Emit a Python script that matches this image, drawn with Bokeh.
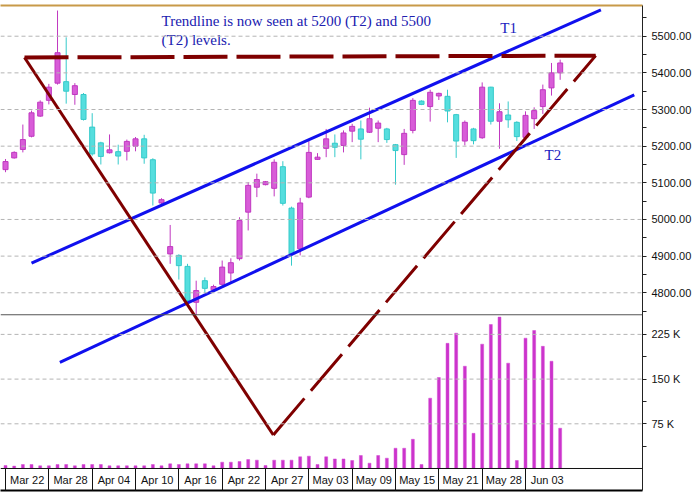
from bokeh.plotting import figure
from bokeh.models import Range1d, LinearAxis, FixedTicker, Span, Label, ColumnDataSource
from bokeh.core.properties import value
from bokeh.embed import file_html
from bokeh.resources import INLINE

# ---------------- data ----------------
date_labels = ["Mar 22", "Mar 28", "Apr 04", "Apr 10", "Apr 16", "Apr 22", "Apr 27",
               "May 03", "May 09", "May 15", "May 21", "May 28", "Jun 03"]
date_positions = [0, 5, 10, 15, 20, 25, 30, 35, 40, 45, 50, 55, 60]

opens = [5136, 5168, 5191, 5227, 5282, 5325, 5372, 5376, 5341, 5341,
         5252, 5209, 5182, 5185, 5186, 5200, 5220, 5163, 5045, 4906,
         4902, 4872, 4774, 4833, 4808, 4823, 4854, 4893, 5020, 5088,
         5095, 5085, 5144, 5031, 4920, 5061, 5164, 5194, 5208, 5202,
         5241, 5247, 5238, 5249, 5247, 5204, 5177, 5243, 5323, 5308,
         5337, 5336, 5286, 5214, 5247, 5223, 5361, 5268, 5285, 5265,
         5224, 5275, 5308, 5359, 5400]
highs = [5165, 5186, 5259, 5297, 5325, 5370, 5570, 5497, 5372, 5345,
         5290, 5212, 5232, 5204, 5218, 5225, 5231, 5167, 5058, 4985,
         4905, 4879, 4833, 4842, 4822, 4888, 4894, 5006, 5102, 5125,
         5105, 5164, 5159, 5035, 5059, 5217, 5181, 5247, 5232, 5243,
         5261, 5270, 5305, 5270, 5250, 5206, 5247, 5331, 5325, 5354,
         5346, 5354, 5288, 5270, 5250, 5374, 5362, 5317, 5322, 5268,
         5295, 5306, 5368, 5427, 5436]
lows = [5129, 5166, 5183, 5224, 5280, 5314, 5368, 5316, 5313, 5270,
        5174, 5150, 5180, 5150, 5161, 5186, 5152, 5038, 5042, 4879,
        4836, 4774, 4740, 4800, 4805, 4818, 4829, 4888, 4970, 5061,
        5093, 5063, 5038, 4874, 4902, 5058, 5163, 5170, 5170, 5183,
        5211, 5164, 5236, 5211, 5209, 5095, 5149, 5235, 5312, 5267,
        5326, 5265, 5168, 5202, 5205, 5220, 5259, 5193, 5250, 5214,
        5220, 5247, 5288, 5338, 5381]
closes = [5158, 5183, 5218, 5291, 5320, 5361, 5455, 5350, 5365, 5273,
          5179, 5172, 5190, 5173, 5213, 5220, 5168, 5072, 5054, 4926,
          4874, 4779, 4806, 4812, 4817, 4870, 4882, 4997, 5093, 5109,
          5103, 5156, 5044, 4906, 5045, 5183, 5170, 5220, 5197, 5236,
          5254, 5219, 5275, 5263, 5218, 5188, 5235, 5325, 5314, 5347,
          5344, 5296, 5214, 5265, 5215, 5361, 5268, 5294, 5272, 5226,
          5284, 5297, 5354, 5400, 5427]
volumes = [5000, 4000, 6700, 6700, 4500, 4500, 6700, 6700, 4500, 6700,
           6700, 6700, 4500, 4500, 4500, 4500, 4500, 6700, 4500, 7800,
           6700, 7800, 7800, 7800, 4500, 10600, 10600, 11700, 15000, 14000,
           5000, 14000, 14000, 14000, 19600, 20700, 6700, 19600, 16000, 16000,
           13400, 21800, 8900, 21800, 17300, 34000, 34000, 49000, 6700, 118000,
           152700, 210000, 227000, 171600, 59000, 208600, 241600, 254000, 176700, 13400,
           218600, 231500, 205000, 180000, 67600]

price_ticks = [4800, 4900, 5000, 5100, 5200, 5300, 5400, 5500]
price_minor_ticks = [4750, 4850, 4950, 5050, 5150, 5250, 5350, 5450, 5550]
volume_ticks = [75000, 150000, 225000]
volume_labels = ["75 K", "150 K", "225 K"]
volume_minor_ticks = [37500, 112500, 187500]

# trend lines (bar index, price)
t1_x = [3.0, 68.7]
t1_y = [4881, 5572]
t2_x = [6.27, 72.55]
t2_y = [4610, 5340]
tri_left_x = [2.19, 30.9]
tri_left_y = [5442, 4412]
tri_right_x = [30.9, 68.1]
tri_right_y = [4412, 5447]
tri_top_x = [2.19, 68.1]
tri_top_y = [5442, 5447]

note_text = "Trendline is now seen at 5200 (T2) and 5500\n(T2) levels."
note_x = [18.0]
note_y = [5562]
trend_names = ["T1", "T2"]
trend_label_x = [57.1, 62.2]
trend_label_y = [5543, 5199]
period_label = "D"

price_panel_floor = 4740
# ---------------- figure ----------------
price_lo, price_hi = 4260.5, 5583.8
vol_lo, vol_hi = -36913, 776846

p = figure(width=699, height=496, output_backend="svg", toolbar_location=None,
           x_range=Range1d(-0.58, 73.5), y_range=Range1d(price_lo, price_hi),
           x_axis_location=None, y_axis_location=None, title=None,
           min_border_left=0, min_border_right=57, min_border_top=5, min_border_bottom=6,
           outline_line_color=None, background_fill_color="white")
p.extra_y_ranges = {"vol": Range1d(vol_lo, vol_hi)}
p.grid.visible = False


def vol_to_price(v):
    return price_lo + (v - vol_lo) / (vol_hi - vol_lo) * (price_hi - price_lo)


# gridlines
for t in price_ticks:
    p.add_layout(Span(location=t, dimension="width", line_color="#b4b4b4",
                      line_dash="4 3", line_width=1))
for t in volume_ticks:
    p.add_layout(Span(location=t, dimension="width", line_color="#b4b4b4",
                      line_dash="4 3", line_width=1, y_range_name="vol"))
p.add_layout(Span(location=price_panel_floor, dimension="width",
                  line_color="#555555", line_width=1))
# top edge of the date boxes (volume zero line)
p.add_layout(Span(location=0, dimension="width", line_color="#111111",
                  line_width=1, y_range_name="vol"))

# candles
n = len(opens)
idx = list(range(n))
up = [c >= o for o, c in zip(opens, closes)]
src = ColumnDataSource(dict(
    x=idx, o=opens, h=highs, l=lows, c=closes,
    top=[max(o, c) for o, c in zip(opens, closes)],
    bot=[min(o, c) for o, c in zip(opens, closes)],
    fill=["#D85CD8" if u else "#55DEDE" for u in up],
    edge=["#C038C0" if u else "#35CACA" for u in up],
    vol=volumes,
))
p.segment(x0="x", y0="l", x1="x", y1="h", line_color="edge", line_width=1, source=src)
p.vbar(x="x", width=0.58, top="top", bottom="bot", fill_color="fill",
       line_color="edge", line_width=1, source=src)

# volume
p.vbar(x="x", width=0.34, top="vol", bottom=0, fill_color="#CC33CC",
       line_color="#D24BD2", line_width=0.5, y_range_name="vol", source=src)

# trend lines
p.line(t1_x, t1_y, line_color="#1010EE", line_width=3)
p.line(t2_x, t2_y, line_color="#1010EE", line_width=3)
p.line(tri_left_x, tri_left_y, line_color="#7F0000", line_width=3)
p.line(tri_right_x, tri_right_y, line_color="#7F0000", line_width=3, line_dash="48 10")
p.line(tri_top_x, tri_top_y, line_color="#7F0000", line_width=4, line_dash="44 9")

# texts
p.text(x=note_x, y=note_y, text=[note_text], text_font=value("Liberation Serif"),
       text_font_size="15px", text_color="#2020B0", text_baseline="top", text_align="left",
       text_line_height=1.15)
p.text(x=trend_label_x, y=trend_label_y, text=trend_names, text_font=value("Liberation Serif"),
       text_font_size="15px", text_color="#2020C0", text_baseline="top", text_align="left")

# right axis: price ticks + volume ticks mapped onto the price scale
vol_tick_pos = [vol_to_price(v) for v in volume_ticks]
vol_minor_pos = [vol_to_price(v) for v in volume_minor_ticks]
overrides = {t: f"{t:.2f}" for t in price_ticks}
for pos, lab in zip(vol_tick_pos, volume_labels):
    overrides[pos] = lab
yaxis = LinearAxis(ticker=FixedTicker(ticks=price_ticks + vol_tick_pos,
                                      minor_ticks=price_minor_ticks + vol_minor_pos),
                   major_label_overrides=overrides,
                   major_tick_out=4, major_tick_in=0, minor_tick_out=4, minor_tick_in=0,
                   axis_line_color="#222222", major_tick_line_color="#222222",
                   minor_tick_line_color="#222222", major_label_standoff=5,
                   major_label_text_font="Liberation Sans",
                   major_label_text_font_size="11px", major_label_text_color="#111111")
p.add_layout(yaxis, "right")

# bottom axis: date boxes (separators drawn as inward minor ticks, labels inside boxes)
centers = [d + 2.5 for d in date_positions]
xaxis = LinearAxis(ticker=FixedTicker(ticks=centers, minor_ticks=date_positions),
                   major_label_overrides={c: lab for c, lab in zip(centers, date_labels)},
                   major_tick_out=0, major_tick_in=0, major_tick_line_color=None,
                   minor_tick_out=0, minor_tick_in=22, minor_tick_line_color="#111111",
                   axis_line_color="#000000", axis_line_width=2, major_label_standoff=-17,
                   major_label_text_font="Liberation Sans",
                   major_label_text_font_size="11px", major_label_text_color="#111111")
p.add_layout(xaxis, "below")

# top border
top_axis = LinearAxis(ticker=FixedTicker(ticks=[]), major_tick_out=0, minor_tick_out=0,
                      major_tick_in=0, minor_tick_in=0, axis_line_color="#C89A48",
                      axis_line_width=2)
p.add_layout(top_axis, "above")

# period marker box next to the volume axis
p.add_layout(Label(x=73.5, y=vol_to_price(0), text=" " + period_label + "  ", x_offset=1,
                   text_color="white", text_font="Liberation Sans",
                   text_font_size="11px", text_baseline="bottom",
                   background_fill_color="#262626", border_line_color="#262626"))

open("out.html", "w").write(file_html(p, INLINE))
